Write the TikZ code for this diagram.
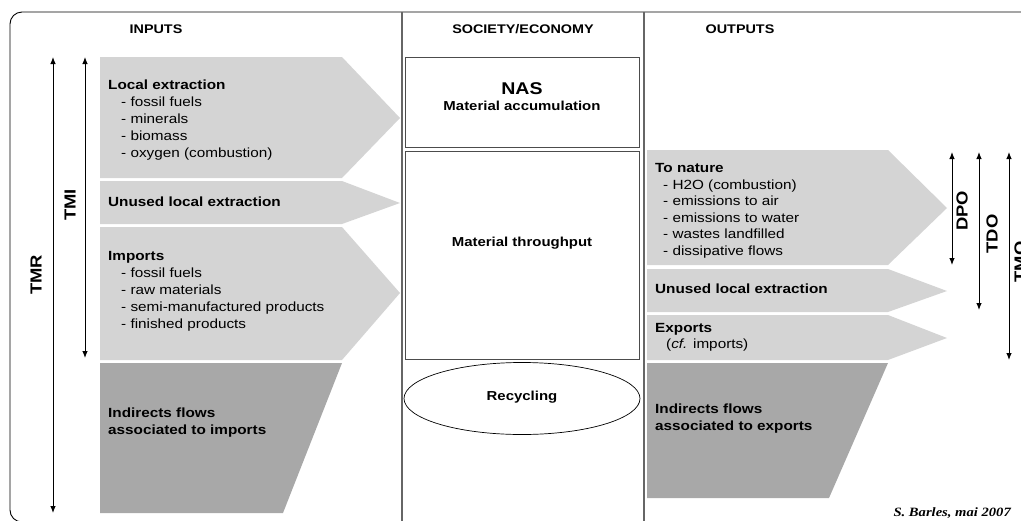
\documentclass[tikz,border=0pt]{standalone}
\usepackage{fontspec}
\setmainfont{Liberation Sans}[FakeStretch=1.15]
\newfontfamily\sigfont{Liberation Serif}[FakeStretch=1.15]
\usetikzlibrary{arrows.meta,shapes.geometric}
\definecolor{flowlight}{gray}{0.83}
\definecolor{flowdark}{gray}{0.66}
\definecolor{divider}{gray}{0.4}
\tikzset{
	flowhead/.style={font=\bfseries\fontsize{13.3}{15}\selectfont, anchor=base west, inner sep=0pt},
	flowitem/.style={font=\fontsize{13.3}{15}\selectfont, anchor=base west, inner sep=0pt},
	coltitle/.style={font=\bfseries\fontsize{12.5}{14}\selectfont, anchor=base, inner sep=0pt},
	acronym/.style={font=\bfseries\fontsize{16}{18}\selectfont, rotate=90, inner sep=0pt},
	extent/.style={{Latex[length=7pt,width=5.5pt]}-{Latex[length=7pt,width=5.5pt]}, line width=0.9pt},
	stockbox/.style={draw=black!70, line width=0.9pt, minimum width=234pt, inner sep=0pt},
}
\begin{document}
\begin{tikzpicture}[x=1pt,y=-1pt]
	\useasboundingbox (0,0) rectangle (1021,520);
	\draw [black, line width=0.9pt, rounded corners=12pt] (10,12) rectangle (1045,522);
	\draw [divider, line width=1.4pt] (402,12) -- (402,522);
	\draw [divider, line width=1.4pt] (644,12) -- (644,522);
	\node [coltitle] (inputs) at (156,33.5) {INPUTS};
	\node [coltitle] (society) at (523,33.5) {SOCIETY/ECONOMY};
	\node [coltitle] (outputs) at (740,33.5) {OUTPUTS};
	\fill [flowlight] (100,57) -- (342,57) -- (400,118) -- (342,178) -- (100,178) -- cycle;
	\fill [flowlight] (100,181) -- (342,181) -- (400,203) -- (342,224) -- (100,224) -- cycle;
	\fill [flowlight] (100,227) -- (342,227) -- (400,293) -- (342,360) -- (100,360) -- cycle;
	\fill [flowdark] (100,363) -- (342,363) -- (283,513) -- (100,513) -- cycle;
	\node [flowhead] (locext) at (108,89) {Local extraction};
	\node [flowitem] (locext1) at (121,106) {- fossil fuels};
	\node [flowitem] (locext2) at (121,123) {- minerals};
	\node [flowitem] (locext3) at (121,140) {- biomass};
	\node [flowitem] (locext4) at (121,157) {- oxygen (combustion)};
	\node [flowhead] (unusedin) at (108,206) {Unused local extraction};
	\node [flowhead] (imports) at (108,260) {Imports};
	\node [flowitem] (imports1) at (121,277) {- fossil fuels};
	\node [flowitem] (imports2) at (121,294) {- raw materials};
	\node [flowitem] (imports3) at (121,311) {- semi-manufactured products};
	\node [flowitem] (imports4) at (121,328) {- finished products};
	\node [flowhead] (indin1) at (108,417) {Indirects flows};
	\node [flowhead] (indin2) at (108,434) {associated to imports};
	\coordinate (tmrtop) at (53,57);
	\coordinate (tmrbot) at (53,513);
	\coordinate (tmitop) at (85,57);
	\coordinate (tmibot) at (85,358);
	\draw [extent] (tmrtop) -- (tmrbot);
	\draw [extent] (tmitop) -- (tmibot);
	\node [acronym] (tmr) at (36,275) {TMR};
	\node [acronym] (tmi) at (70,205) {TMI};
	\node [stockbox, minimum height=90pt] (nas) at (522,102) {};
	\node [font=\bfseries\fontsize{17}{19}\selectfont, anchor=base, inner sep=0pt] (nastitle) at (522,94) {NAS};
	\node [coltitle, font=\bfseries\fontsize{13}{15}\selectfont] (accum) at (522,110) {Material accumulation};
	\node [stockbox, minimum height=208pt] (through) at (522,255) {};
	\node [coltitle, font=\bfseries\fontsize{13}{15}\selectfont] (throughtext) at (522,246) {Material throughput};
	\node [draw, ellipse, line width=0.7pt, minimum width=236pt, minimum height=72pt] (recycling) at (522,398.5) {};
	\node [coltitle, font=\bfseries\fontsize{13}{15}\selectfont] (recytext) at (522,400) {Recycling};
	\fill [flowlight] (647,150) -- (888,150) -- (947,208) -- (888,265) -- (647,265) -- cycle;
	\fill [flowlight] (647,269) -- (888,269) -- (947,291) -- (888,312) -- (647,312) -- cycle;
	\fill [flowlight] (647,315) -- (888,315) -- (947,338) -- (888,360) -- (647,360) -- cycle;
	\fill [flowdark] (647,363) -- (888,363) -- (829,498) -- (647,498) -- cycle;
	\node [flowhead] (nature) at (655,172) {To nature};
	\node [flowitem] (nature1) at (663,189) {- H2O (combustion)};
	\node [flowitem] (nature2) at (663,205.5) {- emissions to air};
	\node [flowitem] (nature3) at (663,222) {- emissions to water};
	\node [flowitem] (nature4) at (663,238.5) {- wastes landfilled};
	\node [flowitem] (nature5) at (663,255) {- dissipative flows};
	\node [flowhead] (unusedout) at (655,293) {Unused local extraction};
	\node [flowhead] (exports) at (655,332) {Exports};
	\node [flowitem] (exports1) at (666,348) {(\textit{cf.} imports)};
	\node [flowhead] (indout1) at (655,413) {Indirects flows};
	\node [flowhead] (indout2) at (655,430) {associated to exports};
	\coordinate (dpotop) at (952,152);
	\coordinate (dpobot) at (952,265);
	\coordinate (tdotop) at (979,152);
	\coordinate (tdobot) at (979,310);
	\coordinate (tmotop) at (1009,152);
	\coordinate (tmobot) at (1009,360);
	\draw [extent] (dpotop) -- (dpobot);
	\draw [extent] (tdotop) -- (tdobot);
	\draw [extent] (tmotop) -- (tmobot);
	\node [acronym] (dpo) at (962,211) {DPO};
	\node [acronym] (tdo) at (992,234) {TDO};
	\node [acronym] (tmo) at (1020,262) {TMO};
	\node [font=\sigfont\bfseries\itshape\fontsize{12.7}{14}\selectfont, anchor=base east, inner sep=0pt] (signature) at (1011,516) {S. Barles, mai 2007};
\end{tikzpicture}
\end{document}
